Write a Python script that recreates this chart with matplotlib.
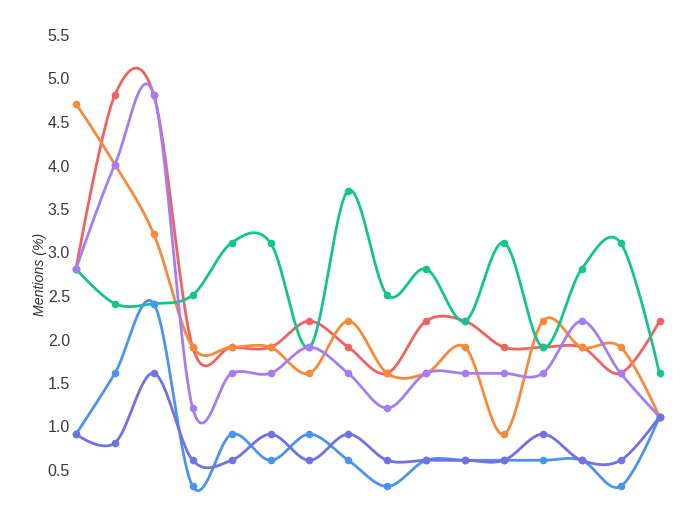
import numpy as np
import matplotlib
matplotlib.use("Agg")
import matplotlib.pyplot as plt

# ---- data ----
x_index = list(range(16))
red    = [2.8, 4.8, 4.8, 1.9, 1.9, 1.9, 2.2, 1.9, 1.6, 2.2, 2.2, 1.9, 1.9, 1.9, 1.6, 2.2]
orange = [4.7, 4.0, 3.2, 1.9, 1.9, 1.9, 1.6, 2.2, 1.6, 1.6, 1.9, 0.9, 2.2, 1.9, 1.9, 1.1]
green  = [2.8, 2.4, 2.4, 2.5, 3.1, 3.1, 1.9, 3.7, 2.5, 2.8, 2.2, 3.1, 1.9, 2.8, 3.1, 1.6]
purple = [2.8, 4.0, 4.8, 1.2, 1.6, 1.6, 1.9, 1.6, 1.2, 1.6, 1.6, 1.6, 1.6, 2.2, 1.6, 1.1]
blue   = [0.9, 1.6, 2.4, 0.3, 0.9, 0.6, 0.9, 0.6, 0.3, 0.6, 0.6, 0.6, 0.6, 0.6, 0.3, 1.1]
indigo = [0.9, 0.8, 1.6, 0.6, 0.6, 0.9, 0.6, 0.9, 0.6, 0.6, 0.6, 0.6, 0.9, 0.6, 0.6, 1.1]
y_ticks = [0.5, 1.0, 1.5, 2.0, 2.5, 3.0, 3.5, 4.0, 4.5, 5.0, 5.5]
y_title = "Mentions (%)"

series = [
    (red, "#f06262"),
    (orange, "#f7893b"),
    (green, "#13c48b"),
    (purple, "#a67cf2"),
    (blue, "#4c93ee"),
    (indigo, "#7071e2"),
]

W, H = 686, 506
fig = plt.figure(figsize=(W / 100, H / 100), dpi=100)

# pixel layout: index 0 -> px 76, index 15 -> px 659.5 ; y 5.5 -> px 35, y 0 -> px 513.5
x0px, x1px = 76.0, 659.5
step = (x1px - x0px) / 15
left_px = 73.0
right_px = x1px + (x0px - left_px)
top_px = 35.0
bot_px = 513.5
ax = fig.add_axes([left_px / W, (H - bot_px) / H, (right_px - left_px) / W, (bot_px - top_px) / H])
pad_idx = (x0px - left_px) / step
ax.set_xlim(-pad_idx, 15 + pad_idx)
ax.set_ylim(0, 5.5)

for s in ax.spines.values():
    s.set_visible(False)
ax.set_xticks([])
ax.set_yticks(y_ticks)
ax.set_yticklabels([f"{v:.1f}" for v in y_ticks], fontsize=11.5, color="#3a3a3a",
                   family="Liberation Sans")
ax.tick_params(axis="y", length=0, pad=2.2)
ax.set_ylabel(y_title, fontsize=10.2, style="italic", color="#333333",
              family="Liberation Sans")
ax.yaxis.set_label_coords((47 - left_px) / (right_px - left_px), 0.5)


def cardinal(xs, ys, n=40, tension=0.0):
    """d3-style cardinal spline through the points (zero tangent at ends)."""
    p = np.column_stack([xs, ys]).astype(float)
    k = (1 - tension) / 6
    m = len(p)
    t = np.linspace(0, 1, n)[:, None]
    out = []
    for i in range(m - 1):
        a, b = p[i], p[i + 1]
        c1 = a + k * (p[i + 1] - p[i - 1]) if i > 0 else a
        c2 = b - k * (p[i + 2] - p[i]) if i + 2 < m else b
        out.append((1 - t) ** 3 * a + 3 * (1 - t) ** 2 * t * c1 + 3 * (1 - t) * t ** 2 * c2 + t ** 3 * b)
    return np.vstack(out)


for vals, col in series:
    curve = cardinal(x_index, vals)
    ax.plot(curve[:, 0], curve[:, 1], color=col, lw=2.0, solid_capstyle="round", clip_on=False)
    ax.plot(x_index, vals, "o", color=col, ms=5.5, mec="none", clip_on=False)

fig.savefig("out.png", dpi=100, facecolor="white")
